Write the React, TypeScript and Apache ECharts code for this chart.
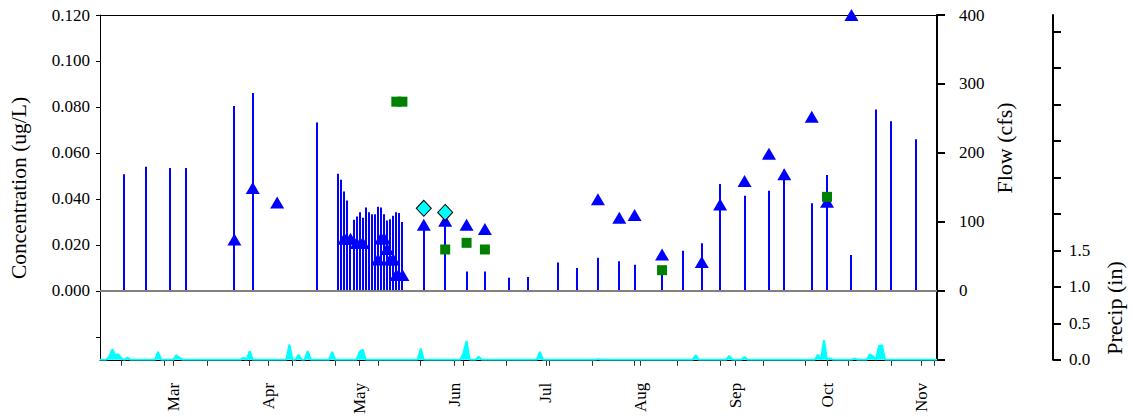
import React, { useEffect, useRef } from "react";
import * as echarts from "echarts";

// Day-of-year (0 = Jan 1) axis
const monthNames = ["Mar", "Apr", "May", "Jun", "Jul", "Aug", "Sep", "Oct", "Nov"];
const monthStartDays = [59, 90, 120, 151, 181, 212, 243, 273, 304];
const biweeklyTickDays = [42, 56, 70, 84, 98, 112, 126, 140, 154, 168, 182, 196, 210, 224, 238, 252, 266, 280, 294, 308];

const concLabelValues = [0, 0.02, 0.04, 0.06, 0.08, 0.1, 0.12];
const concTickValues = [-0.02, 0, 0.02, 0.04, 0.06, 0.08, 0.1, 0.12];
const precipLabelValues = [0, 0.5, 1.0, 1.5];
const precipTickValues = [0, 0.5, 1.0, 1.5, 2.0, 2.5, 3.0, 3.5, 4.0, 4.5];

// Flow (cfs) sticks
const flowDays = [43, 50, 58, 63, 79, 85, 106, 113, 114, 115, 116, 117, 118, 119, 120, 121, 122, 123, 124, 125, 126, 127, 128, 129, 130, 131, 132, 133, 134, 141, 148, 155, 161, 169, 175, 185, 191, 198, 205, 210, 219, 226, 232, 238, 246, 254, 259, 268, 273, 281, 289, 294, 302];
const flowValues = [169, 180, 178, 178, 268, 287, 244, 170, 161, 144, 131, 80, 103, 108, 114, 106, 121, 114, 111, 111, 122, 121, 111, 102, 104, 109, 114, 113, 100, 92, 95, 28, 28, 19, 20, 41, 33, 48, 43, 38, 30, 58, 69, 155, 138, 145, 176, 127, 168, 52, 263, 246, 220];

// Concentration (ug/L) – blue triangles
const triangleDays = [79, 85, 93, 115, 117, 119, 121, 126, 127, 128, 129, 130, 131, 132, 134, 141, 148, 155, 161, 198, 205, 210, 219, 232, 238, 246, 254, 259, 268, 273, 281];
const triangleValues = [0.0224, 0.0448, 0.0384, 0.0227, 0.0227, 0.0208, 0.0208, 0.0136, 0.0228, 0.0228, 0.0182, 0.0136, 0.0136, 0.0069, 0.0069, 0.0288, 0.0305, 0.0288, 0.0269, 0.0398, 0.0318, 0.033, 0.0158, 0.0126, 0.0376, 0.0478, 0.0597, 0.0507, 0.0757, 0.0388, 0.12];

// Concentration – green squares
const squareDays = [132, 134, 148, 155, 161, 219, 273];
const squareValues = [0.0823, 0.0823, 0.018, 0.0209, 0.018, 0.009, 0.0409];

// Concentration – cyan diamonds
const diamondDays = [141, 148];
const diamondValues = [0.0359, 0.0341];

// Precipitation (in), days with rain
const precipDays = [38, 39, 40, 41, 42, 44, 54, 60, 61, 82, 84, 97, 100, 103, 111, 120, 121, 140, 154, 155, 159, 179, 198, 230, 241, 246, 270, 272, 274, 282, 287, 288, 290, 291];
const precipValues = [0.04, 0.145, 0.06, 0.077, 0.02, 0.03, 0.11, 0.064, 0.03, 0.03, 0.12, 0.21, 0.07, 0.12, 0.11, 0.11, 0.14, 0.155, 0.1, 0.26, 0.045, 0.11, 0.01, 0.064, 0.055, 0.04, 0.07, 0.27, 0.02, 0.02, 0.077, 0.05, 0.19, 0.2];

const DAY_MIN = 35;
const DAY_MAX = 309;

const FONT = '"Liberation Serif", "Times New Roman", serif';

export default function App() {
  const ref = useRef<HTMLDivElement>(null);

  useEffect(() => {
    if (!ref.current) return;
    const chart = echarts.init(ref.current, null, { renderer: "svg" });

    const precipMap: Record<number, number> = {};
    precipDays.forEach((d, i) => (precipMap[d] = precipValues[i]));
    const precipData: number[][] = [];
    for (let d = DAY_MIN; d <= DAY_MAX; d++) precipData.push([d, precipMap[d] ?? 0]);

    const flowData = flowDays.map((d, i) => [d, flowValues[i]]);
    const triData = triangleDays.map((d, i) => [d, triangleValues[i]]);
    const sqData = squareDays.map((d, i) => [d, squareValues[i]]);
    const diaData = diamondDays.map((d, i) => [d, diamondValues[i]]);

    const tickLabel = { fontFamily: FONT, fontSize: 17, color: "#000" };

    chart.setOption({
      animation: false,
      backgroundColor: "#fff",
      grid: { left: 100, right: 196, top: 15, bottom: 56, containLabel: false },
      xAxis: [
        {
          type: "value",
          position: "bottom",
          min: DAY_MIN,
          max: DAY_MAX,
          axisLine: { show: true, onZero: false, lineStyle: { color: "#000", width: 1 } },
          axisTick: {
            show: true,
            length: 6,
            customValues: [...biweeklyTickDays, ...monthStartDays].sort((a, b) => a - b),
            lineStyle: { color: "#333", width: 1 },
          },
          axisLabel: {
            ...tickLabel,
            customValues: monthStartDays,
            rotate: 90,
            margin: 23,
            formatter: (v: number) => {
              const i = monthStartDays.indexOf(Math.round(v));
              return i >= 0 ? monthNames[i] : "";
            },
          },
          splitLine: { show: false },
        },
        {
          type: "value",
          position: "top",
          min: DAY_MIN,
          max: DAY_MAX,
          axisLine: { show: true, onZero: false, lineStyle: { color: "#000", width: 1 } },
          axisTick: { show: false },
          axisLabel: { show: false },
          splitLine: { show: false },
        },
      ],
      yAxis: [
        {
          type: "value",
          position: "left",
          min: -0.03,
          max: 0.12,
          axisLine: { show: true, onZero: false, lineStyle: { color: "#000", width: 1 } },
          axisTick: { show: true, length: 4, customValues: concTickValues, lineStyle: { color: "#000" } },
          axisLabel: {
            ...tickLabel,
            customValues: concLabelValues,
            margin: 10,
            formatter: (v: number) => v.toFixed(3),
          },
          splitLine: { show: false },
        },
        {
          type: "value",
          position: "right",
          min: -100,
          max: 400,
          interval: 100,
          axisLine: { show: true, onZero: false, lineStyle: { color: "#000", width: 2 } },
          axisTick: { show: true, length: 8, lineStyle: { color: "#000", width: 2 } },
          axisLabel: {
            ...tickLabel,
            margin: 22,
            formatter: (v: number) => (v < 0 ? "" : String(v)),
          },
          splitLine: { show: false },
        },
        {
          type: "value",
          position: "right",
          offset: 116,
          min: 0,
          max: 4.73,
          axisLine: { show: true, onZero: false, lineStyle: { color: "#000", width: 2 } },
          axisTick: { show: true, length: 8, customValues: precipTickValues, lineStyle: { color: "#000", width: 2 } },
          axisLabel: {
            ...tickLabel,
            customValues: precipLabelValues,
            margin: 16,
            formatter: (v: number) => v.toFixed(1),
          },
          splitLine: { show: false },
        },
      ],
      graphic: [
        {
          type: "text",
          x: 19,
          y: 188,
          rotation: Math.PI / 2,
          style: { text: "Concentration (ug/L)", fontFamily: FONT, fontSize: 21.5, fill: "#000", align: "center", verticalAlign: "middle" },
        },
        {
          type: "text",
          x: 1004,
          y: 148,
          rotation: Math.PI / 2,
          style: { text: "Flow (cfs)", fontFamily: FONT, fontSize: 22, fill: "#000", align: "center", verticalAlign: "middle" },
        },
        {
          type: "text",
          x: 1114,
          y: 308,
          rotation: Math.PI / 2,
          style: { text: "Precip (in)", fontFamily: FONT, fontSize: 22, fill: "#000", align: "center", verticalAlign: "middle" },
        },
      ],
      series: [
        {
          name: "Precip",
          type: "line",
          xAxisIndex: 0,
          yAxisIndex: 2,
          data: precipData,
          symbol: "none",
          lineStyle: { color: "#00ffff", width: 2 },
          areaStyle: { color: "#00ffff", opacity: 1 },
          z: 1,
        },
        {
          name: "Flow",
          type: "custom",
          xAxisIndex: 0,
          yAxisIndex: 1,
          data: flowData,
          renderItem: (params: any, api: any) => {
            const base = api.coord([api.value(0), 0]);
            const top = api.coord([api.value(0), api.value(1)]);
            const x = Math.round(base[0]) - 1;
            return {
              type: "rect",
              shape: { x, y: top[1], width: 2, height: base[1] - top[1] },
              style: { fill: "#0000ff" },
            };
          },
          z: 2,
        },
        {
          name: "Triangles",
          type: "scatter",
          xAxisIndex: 0,
          yAxisIndex: 0,
          data: triData,
          symbol: "triangle",
          symbolSize: [14, 12],
          itemStyle: { color: "#0000ff", opacity: 1 },
          clip: false,
          z: 3,
          markLine: {
            silent: true,
            symbol: "none",
            label: { show: false },
            lineStyle: { color: "#808080", width: 2, type: "solid" },
            data: [{ yAxis: 0 }],
          },
        },
        {
          name: "Squares",
          type: "scatter",
          xAxisIndex: 0,
          yAxisIndex: 0,
          data: sqData,
          symbol: "rect",
          symbolSize: 10,
          itemStyle: { color: "#008000", opacity: 1 },
          clip: false,
          z: 4,
        },
        {
          name: "Diamonds",
          type: "scatter",
          xAxisIndex: 0,
          yAxisIndex: 0,
          data: diaData,
          symbol: "diamond",
          symbolSize: [15, 16],
          itemStyle: { color: "#00ffff", borderColor: "#000", borderWidth: 1, opacity: 1 },
          clip: false,
          z: 5,
        },
      ],
    });

    return () => chart.dispose();
  }, []);

  return (
    <div
      ref={ref}
      style={{ position: "absolute", left: 0, top: 0, width: 1133, height: 417, background: "#fff" }}
    />
  );
}
